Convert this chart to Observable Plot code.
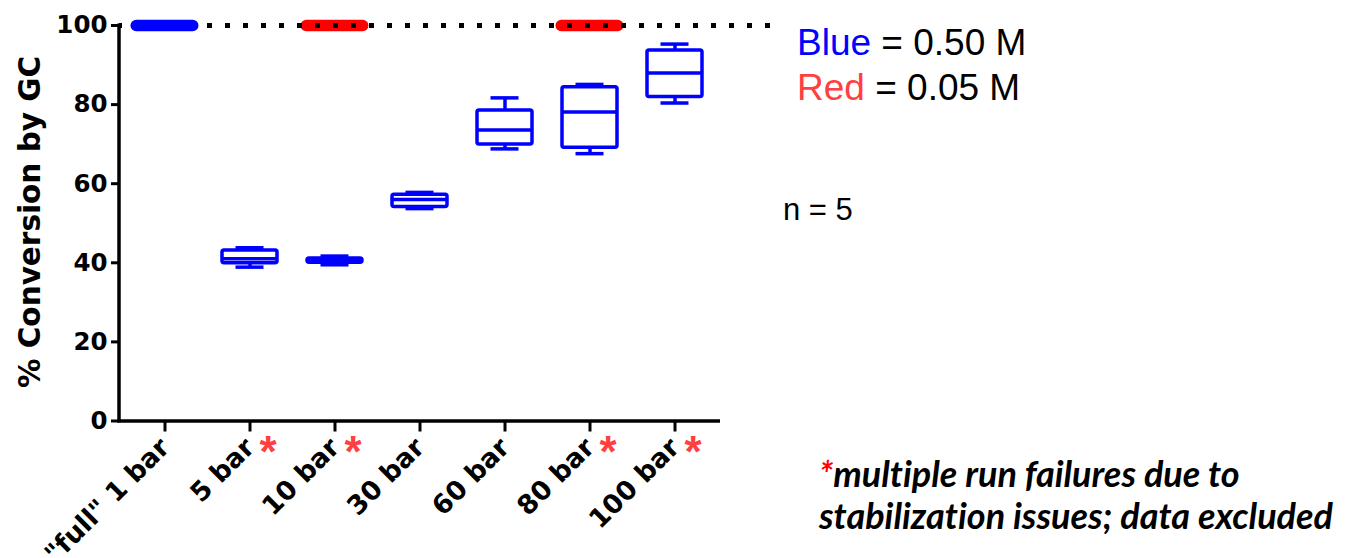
<!DOCTYPE html>
<html><head><meta charset="utf-8">
<script src="https://cdn.jsdelivr.net/npm/d3@7"></script>
<script src="https://cdn.jsdelivr.net/npm/@observablehq/plot@0.6"></script>
<style>
html,body{margin:0;padding:0;background:#fff;}
#wrap{position:relative;width:1346px;height:558px;overflow:hidden;}
#wrap svg{position:absolute;left:0;top:0;}
</style></head><body><div id="wrap"></div>
<script>
// ---- data ----
const categories = ['"full" 1 bar', "5 bar", "10 bar", "30 bar", "60 bar", "80 bar", "100 bar"];
const blueMin    = [100, 38.9, 39.5, 53.7, 68.8, 67.6, 80.4];
const blueQ1     = [100, 39.9, 40.0, 54.1, 69.9, 69.1, 81.9];
const blueMedian = [100, 41.0, 40.5, 56.0, 73.6, 78.1, 88.0];
const blueQ3     = [100, 43.1, 41.1, 57.2, 78.5, 84.4, 93.7];
const blueMax    = [100, 43.8, 41.7, 57.8, 81.7, 85.1, 95.3];
const redCategories = ["10 bar", "80 bar"];
const redValues     = [100, 100];
const starCategories = ["5 bar", "10 bar", "80 bar", "100 bar"];
const yTicks = [0, 20, 40, 60, 80, 100];
const referenceLine = [100];

const BLUE = "#0000ff", RED = "#ff0000", STAR = "#ff4040";

const boxes = categories.map((c, i) => ({cat: c, min: blueMin[i], q1: blueQ1[i], median: blueMedian[i], q3: blueQ3[i], max: blueMax[i]}));
const open = boxes.filter(d => d.max > d.min);
const flat = boxes.filter(d => d.max === d.min);
const red = redCategories.map((c, i) => ({cat: c, value: redValues[i]}));

const yAxisLine = (index, scales, values, dims) => {
  const l = document.createElementNS("http://www.w3.org/2000/svg", "line");
  l.setAttribute("x1", dims.marginLeft); l.setAttribute("x2", dims.marginLeft);
  l.setAttribute("y1", scales.y(0) + 1.75); l.setAttribute("y2", scales.y(100) - 1.5);
  l.setAttribute("stroke", "#000"); l.setAttribute("stroke-width", 3.5);
  return l;
};

const plot = Plot.plot({
  width: 1346, height: 558,
  marginLeft: 119, marginRight: 626, marginTop: 25, marginBottom: 137.5,
  style: {background: "transparent", fontFamily: "'DejaVu Sans', sans-serif", fontWeight: "bold", fontSize: "24.5px", color: "#000", overflow: "visible"},
  x: {type: "band", domain: categories, paddingInner: 0.357, paddingOuter: 0.2, label: null},
  y: {domain: [0, 100], label: null},
  marks: [
    Plot.tickY(red, {x: "cat", y: "value", stroke: RED, strokeWidth: 11.5, strokeLinecap: "round", insetLeft: -0.75, insetRight: -0.75}),
    Plot.ruleY(referenceLine, {stroke: "#000", strokeWidth: 5, strokeDasharray: "5,13", strokeDashoffset: 2, insetRight: -50}),
    Plot.ruleX(open, {x: "cat", y1: "q3", y2: "max", stroke: BLUE, strokeWidth: 3.5}),
    Plot.ruleX(open, {x: "cat", y1: "min", y2: "q1", stroke: BLUE, strokeWidth: 3.5}),
    Plot.tickY(open, {x: "cat", y: "max", stroke: BLUE, strokeWidth: 3.5, insetLeft: 13.5, insetRight: 13.5}),
    Plot.tickY(open, {x: "cat", y: "min", stroke: BLUE, strokeWidth: 3.5, insetLeft: 13.5, insetRight: 13.5}),
    Plot.barY(open, {x: "cat", y1: "q1", y2: "q3", fill: "white", stroke: BLUE, strokeWidth: 3.5, rx: 2}),
    Plot.tickY(open, {x: "cat", y: "median", stroke: BLUE, strokeWidth: 3.5}),
    Plot.tickY(flat, {x: "cat", y: "max", stroke: BLUE, strokeWidth: 11.5, strokeLinecap: "round", insetLeft: -0.75, insetRight: -0.75}),
    Plot.ruleY([0], {stroke: "#000", strokeWidth: 3.5, insetLeft: -1.75}),
    yAxisLine,
    Plot.axisY({ticks: yTicks, tickSize: 8, tickPadding: 4, strokeWidth: 3, label: null}),
    Plot.axisX({tickRotate: -45, tickSize: 11, tickPadding: 11, strokeWidth: 3, fontSize: 26.5, label: null}),
    Plot.text(starCategories, {x: d => d, y: 0, text: () => "*", fill: STAR, fontSize: 44, fontFamily: "'Liberation Sans', Arial, sans-serif", fontWeight: "bold", dx: 18, dy: 32})
  ]
});
document.getElementById("wrap").appendChild(plot);

// ---- annotations (axis title, legend, n, footnote) ----
const ann = d3.select("#wrap").append("svg").attr("width", 1346).attr("height", 558)
  .style("font-family", "'Liberation Sans', Arial, sans-serif");
ann.append("text")
  .attr("transform", "translate(40,222) rotate(-90)")
  .attr("text-anchor", "middle")
  .style("font-family", "'DejaVu Sans', sans-serif").style("font-weight", "bold")
  .attr("font-size", 29.5)
  .text("% Conversion by GC");
const legend = [
  {label: "Blue", color: BLUE, rest: " = 0.50 M", y: 55},
  {label: "Red", color: STAR, rest: " = 0.05 M", y: 100}
];
legend.forEach(d => {
  const t = ann.append("text").attr("x", 797).attr("y", d.y).attr("font-size", 37);
  t.append("tspan").attr("fill", d.color).text(d.label);
  t.append("tspan").attr("fill", "#000").text(d.rest);
});
ann.append("text").attr("x", 783).attr("y", 220).attr("font-size", 31).text("n = 5");

const fn = ann.append("g").style("font-family", "Lato, 'Open Sans', sans-serif").style("font-style", "italic").style("font-weight", "bold")
  .style("font-variant-ligatures", "none").attr("font-size", 36);
const l1 = fn.append("text").attr("x", 819).attr("y", 487);
l1.append("tspan").attr("fill", RED).text("*");
l1.append("tspan").attr("fill", "#000").text("multiple run failures due to");
fn.append("text").attr("x", 819).attr("y", 529).text("stabilization issues; data excluded");
</script>
</body></html>
